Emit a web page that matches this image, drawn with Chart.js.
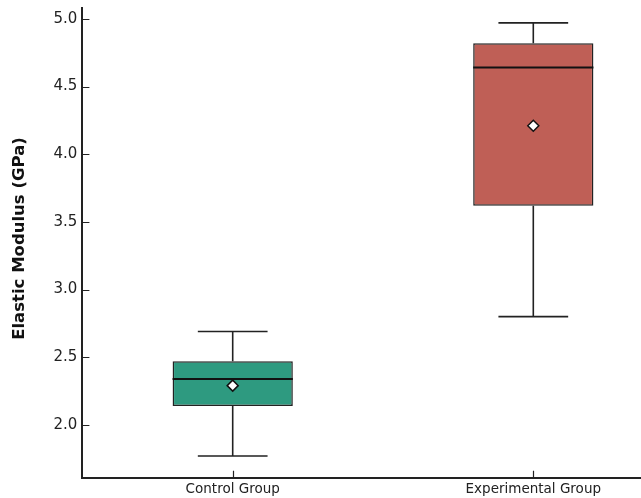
<!DOCTYPE html>
<html>
<head>
<meta charset="utf-8">
<script src="https://cdn.jsdelivr.net/npm/chart.js@4.4.1/dist/chart.umd.min.js"></script>
<style>
  html, body { margin: 0; padding: 0; background: #fff; overflow: hidden; }
  #wrap { width: 700px; height: 498px; position: relative; }
</style>
</head>
<body>
<div id="wrap"><canvas id="boxChart"></canvas></div>
<script>
// box plot data
const categories = ['Control Group', 'Experimental Group'];
const whiskerLow = [1.77, 2.80];
const q1 = [2.14, 3.62];
const median = [2.34, 4.64];
const q3 = [2.47, 4.82];
const whiskerHigh = [2.69, 4.97];
const means = [2.29, 4.21];
const yTicks = [2.0, 2.5, 3.0, 3.5, 4.0, 4.5, 5.0];
const yTitle = 'Elastic Modulus (GPa)';

const boxColors = ['#2e9a80', '#bf5f56'];
const ink = '#222';

// whiskers, caps, median, inward ticks and the y title, drawn from the chart scales
const boxPlotExtras = {
  id: 'boxPlotExtras',
  beforeDatasetsDraw(chart) {
    const x = chart.scales.x, y = chart.scales.y;
    const meta = chart.getDatasetMeta(0);
    const c = chart.ctx;
    c.save();
    c.strokeStyle = ink;
    c.lineWidth = 1.6;
    categories.forEach((cat, i) => {
      const cx = x.getPixelForValue(i);
      const half = meta.data[i].width * 0.29;
      const yl = y.getPixelForValue(whiskerLow[i]);
      const yh = y.getPixelForValue(whiskerHigh[i]);
      c.beginPath();
      c.moveTo(cx, y.getPixelForValue(q1[i])); c.lineTo(cx, yl);
      c.moveTo(cx, y.getPixelForValue(q3[i])); c.lineTo(cx, yh);
      c.moveTo(cx - half, yl); c.lineTo(cx + half, yl);
      c.moveTo(cx - half, yh); c.lineTo(cx + half, yh);
      c.stroke();
    });
    c.restore();
  },
  afterDatasetDraw(chart, args) {
    if (args.index !== 0) return;
    const y = chart.scales.y;
    const c = chart.ctx;
    c.save();
    c.strokeStyle = '#111';
    c.lineWidth = 2;
    args.meta.data.forEach((bar, i) => {
      const py = y.getPixelForValue(median[i]);
      c.beginPath();
      c.moveTo(bar.x - bar.width / 2, py);
      c.lineTo(bar.x + bar.width / 2, py);
      c.stroke();
    });
    c.restore();
  },
  afterDraw(chart) {
    const x = chart.scales.x, y = chart.scales.y;
    const area = chart.chartArea;
    const c = chart.ctx;
    c.save();
    c.strokeStyle = ink;
    c.lineWidth = 1.2;
    c.beginPath();
    y.ticks.forEach((t, i) => {
      const py = Math.round(y.getPixelForTick(i)) + 0.5;
      c.moveTo(area.left, py); c.lineTo(area.left + 7, py);
    });
    categories.forEach((cat, i) => {
      const px = Math.round(x.getPixelForValue(i)) + 0.5;
      c.moveTo(px, area.bottom); c.lineTo(px, area.bottom - 7);
    });
    c.stroke();
    // rotated y axis title
    c.translate(20, 238.5);
    c.rotate(-Math.PI / 2);
    c.fillStyle = '#111';
    c.font = 'bold 16.5px "DejaVu Sans"';
    c.textAlign = 'center';
    c.textBaseline = 'middle';
    c.fillText(yTitle, 0, 0);
    c.restore();
  }
};

const ctx = document.getElementById('boxChart').getContext('2d');
const chart = new Chart(ctx, {
  type: 'bar',
  data: {
    labels: categories,
    datasets: [
      {
        label: 'IQR',
        data: categories.map((c, i) => [q1[i], q3[i]]),
        backgroundColor: boxColors,
        borderColor: ink,
        borderWidth: 1.5,
        borderSkipped: false,
        categoryPercentage: 1,
        barPercentage: 0.4,
        order: 2
      },
      {
        label: 'Mean',
        type: 'line',
        data: means,
        showLine: false,
        pointStyle: 'rectRot',
        pointRadius: 5.5,
        pointBackgroundColor: '#fff',
        pointBorderColor: '#111',
        pointBorderWidth: 1.5,
        order: 1
      }
    ]
  },
  options: {
    responsive: true,
    maintainAspectRatio: false,
    animation: false,
    layout: { padding: { top: 8, right: 16.4, left: 0, bottom: 0 } },
    plugins: { legend: { display: false }, tooltip: { enabled: false } },
    scales: {
      x: {
        grid: { display: false, drawTicks: false },
        border: { display: true, color: ink, width: 2 },
        ticks: { color: '#222', padding: 4, font: { family: 'DejaVu Sans', size: 13.5 } },
        afterFit(scale) { scale.height = 20.3; scale.paddingLeft = 0; scale.paddingRight = 0; }
      },
      y: {
        min: 1.61,
        max: 5.08,
        grid: { display: false, drawTicks: false },
        border: { display: true, color: ink, width: 2 },
        ticks: {
          color: '#222',
          padding: 5,
          font: { family: 'DejaVu Sans', size: 15 },
          callback: v => Number(v).toFixed(1)
        },
        afterBuildTicks(scale) { scale.ticks = yTicks.map(v => ({ value: v })); },
        afterFit(scale) { scale.width = 82.4; scale.paddingTop = 0; scale.paddingBottom = 0; }
      }
    }
  },
  plugins: [boxPlotExtras]
});
</script>
</body>
</html>
